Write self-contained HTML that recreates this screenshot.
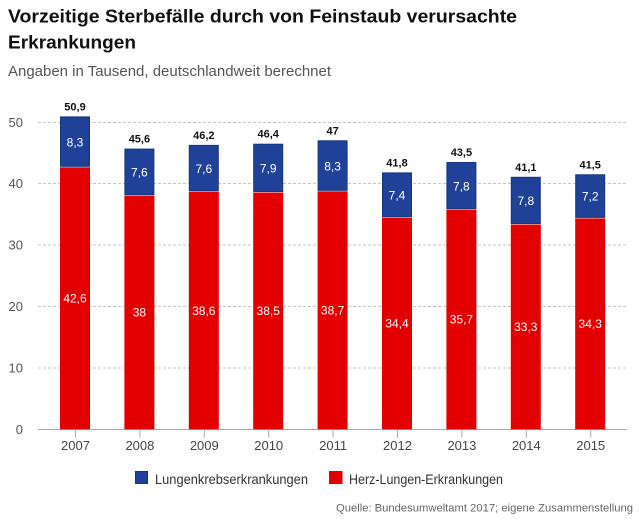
<!DOCTYPE html>
<html>
<head>
<meta charset="utf-8">
<style>
html,body{margin:0;padding:0;background:#fff;}
svg{display:block;}
</style>
</head>
<body>
<svg width="640" height="519" viewBox="0 0 640 519" xmlns="http://www.w3.org/2000/svg" font-family="'Liberation Sans', Arial, sans-serif">
<rect x="0" y="0" width="640" height="519" fill="#fff"/>
<!-- Title -->
<text x="8" y="22.5" font-size="18" font-weight="bold" fill="#111" textLength="509" lengthAdjust="spacingAndGlyphs">Vorzeitige Sterbefälle durch von Feinstaub verursachte</text>
<text x="8" y="48.5" font-size="18" font-weight="bold" fill="#111" textLength="128" lengthAdjust="spacingAndGlyphs">Erkrankungen</text>
<!-- Subtitle -->
<text x="8" y="76" font-size="14.5" fill="#555" textLength="323" lengthAdjust="spacingAndGlyphs">Angaben in Tausend, deutschlandweit berechnet</text>

<!-- Gridlines -->
<g stroke="#c4c4c4" stroke-width="1" stroke-dasharray="3,2">
<line x1="38" y1="122.5" x2="628" y2="122.5"/>
<line x1="38" y1="183.5" x2="628" y2="183.5"/>
<line x1="38" y1="245" x2="628" y2="245"/>
<line x1="38" y1="306.5" x2="628" y2="306.5"/>
<line x1="38" y1="368" x2="628" y2="368"/>
</g>
<!-- Y labels -->
<g font-size="13" fill="#555" text-anchor="end">
<text x="23" y="127">50</text>
<text x="23" y="188">40</text>
<text x="23" y="249.5">30</text>
<text x="23" y="311">20</text>
<text x="23" y="372.5">10</text>
<text x="23" y="434">0</text>
</g>

<!-- Bars -->
<g id="bars"></g>

<!-- Axis -->
<line x1="38" y1="429.5" x2="627" y2="429.5" stroke="#aaa" stroke-width="1"/>
<g stroke="#aaa" stroke-width="1">
<line x1="75.5" y1="429.5" x2="75.5" y2="437.5"/>
<line x1="139.9" y1="429.5" x2="139.9" y2="437.5"/>
<line x1="204.3" y1="429.5" x2="204.3" y2="437.5"/>
<line x1="268.7" y1="429.5" x2="268.7" y2="437.5"/>
<line x1="333.1" y1="429.5" x2="333.1" y2="437.5"/>
<line x1="397.5" y1="429.5" x2="397.5" y2="437.5"/>
<line x1="461.9" y1="429.5" x2="461.9" y2="437.5"/>
<line x1="526.3" y1="429.5" x2="526.3" y2="437.5"/>
<line x1="590.7" y1="429.5" x2="590.7" y2="437.5"/>
</g>
<g font-size="13" fill="#444" text-anchor="middle">
<text x="75.5" y="450">2007</text>
<text x="139.9" y="450">2008</text>
<text x="204.3" y="450">2009</text>
<text x="268.7" y="450">2010</text>
<text x="333.1" y="450">2011</text>
<text x="397.5" y="450">2012</text>
<text x="461.9" y="450">2013</text>
<text x="526.3" y="450">2014</text>
<text x="590.7" y="450">2015</text>
</g>

<!-- Bars rendered statically -->
<g>
<!-- 2007: 42.6 / 8.3 / 50.9 -->
<rect x="60" y="167.3" width="30" height="262" fill="#e30000"/>
<rect x="60.5" y="116.9" width="29" height="49.4" fill="#1f4198" stroke="#15357f" stroke-width="1"/>
<!-- 2008: 38 / 7.6 / 45.6 -->
<rect x="124.4" y="195.6" width="30" height="233.7" fill="#e30000"/>
<rect x="124.9" y="149.1" width="29" height="45.5" fill="#1f4198" stroke="#15357f" stroke-width="1"/>
<!-- 2009: 38.6 / 7.6 / 46.2 -->
<rect x="188.8" y="191.9" width="30" height="237.4" fill="#e30000"/>
<rect x="189.3" y="145.4" width="29" height="45.5" fill="#1f4198" stroke="#15357f" stroke-width="1"/>
<!-- 2010: 38.5 / 7.9 / 46.4 -->
<rect x="253.2" y="192.5" width="30" height="236.8" fill="#e30000"/>
<rect x="253.7" y="144.2" width="29" height="47.3" fill="#1f4198" stroke="#15357f" stroke-width="1"/>
<!-- 2011: 38.7 / 8.3 / 47 -->
<rect x="317.6" y="191.3" width="30" height="238" fill="#e30000"/>
<rect x="318.1" y="140.8" width="29" height="49.5" fill="#1f4198" stroke="#15357f" stroke-width="1"/>
<!-- 2012: 34.4 / 7.4 / 41.8 -->
<rect x="382" y="217.7" width="30" height="211.6" fill="#e30000"/>
<rect x="382.5" y="172.9" width="29" height="43.8" fill="#1f4198" stroke="#15357f" stroke-width="1"/>
<!-- 2013: 35.7 / 7.8 / 43.5 -->
<rect x="446.4" y="209.7" width="30" height="219.6" fill="#e30000"/>
<rect x="446.9" y="162.5" width="29" height="46.2" fill="#1f4198" stroke="#15357f" stroke-width="1"/>
<!-- 2014: 33.3 / 7.8 / 41.1 -->
<rect x="510.8" y="224.5" width="30" height="204.8" fill="#e30000"/>
<rect x="511.3" y="177.3" width="29" height="46.2" fill="#1f4198" stroke="#15357f" stroke-width="1"/>
<!-- 2015: 34.3 / 7.2 / 41.5 -->
<rect x="575.2" y="218.4" width="30" height="210.9" fill="#e30000"/>
<rect x="575.7" y="174.8" width="29" height="42.6" fill="#1f4198" stroke="#15357f" stroke-width="1"/>
</g>

<!-- Total labels -->
<g font-size="11" font-weight="bold" fill="#111" text-anchor="middle">
<text x="75" y="110.3">50,9</text>
<text x="139.4" y="142.6">45,6</text>
<text x="203.8" y="138.9">46,2</text>
<text x="268.2" y="137.7">46,4</text>
<text x="332.6" y="134.3">47</text>
<text x="397" y="166.4">41,8</text>
<text x="461.4" y="156">43,5</text>
<text x="525.8" y="170.8">41,1</text>
<text x="590.2" y="168.3">41,5</text>
</g>
<!-- Blue segment labels -->
<g font-size="12" fill="#fff" text-anchor="middle">
<text x="75" y="146.4">8,3</text>
<text x="139.4" y="176.6">7,6</text>
<text x="203.8" y="172.9">7,6</text>
<text x="268.2" y="172.6">7,9</text>
<text x="332.6" y="170.3">8,3</text>
<text x="397" y="199.3">7,4</text>
<text x="461.4" y="190.3">7,8</text>
<text x="525.8" y="205.1">7,8</text>
<text x="590.2" y="200.6">7,2</text>
</g>
<!-- Red segment labels -->
<g font-size="12" fill="#fff" text-anchor="middle">
<text x="75" y="302.5">42,6</text>
<text x="139.4" y="316.6">38</text>
<text x="203.8" y="314.8">38,6</text>
<text x="268.2" y="315.1">38,5</text>
<text x="332.6" y="314.5">38,7</text>
<text x="397" y="327.7">34,4</text>
<text x="461.4" y="323.7">35,7</text>
<text x="525.8" y="331.1">33,3</text>
<text x="590.2" y="328.1">34,3</text>
</g>

<!-- Legend -->
<rect x="135.5" y="471.5" width="12" height="12" fill="#1f4198" stroke="#15357f" stroke-width="1"/>
<text x="155" y="484" font-size="14" fill="#333" textLength="153" lengthAdjust="spacingAndGlyphs">Lungenkrebserkrankungen</text>
<rect x="329" y="471" width="13.5" height="13" fill="#e30000"/>
<text x="349" y="484" font-size="14" fill="#333" textLength="154" lengthAdjust="spacingAndGlyphs">Herz-Lungen-Erkrankungen</text>

<!-- Source -->
<text x="336" y="511.5" font-size="11" fill="#666" textLength="297" lengthAdjust="spacingAndGlyphs">Quelle: Bundesumweltamt 2017; eigene Zusammenstellung</text>
</svg>
</body>
</html>
